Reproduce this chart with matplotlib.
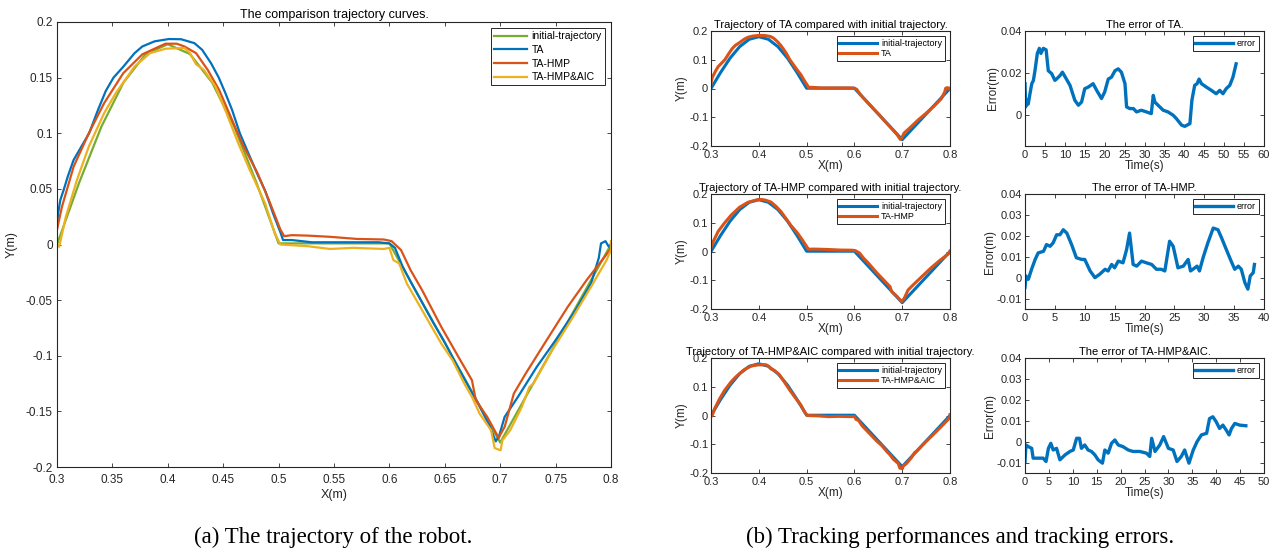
import matplotlib
matplotlib.use('Agg')
import matplotlib.pyplot as plt
import matplotlib.ticker as tck

# ---- trajectory data (x, y in metres) ----
init_x = [0.30, 0.32, 0.34, 0.36, 0.38, 0.40, 0.42, 0.44, 0.46, 0.48, 0.50, 0.60, 0.70, 0.80]
init_y = [0.0, 0.0556, 0.1058, 0.1456, 0.1712, 0.18, 0.1712, 0.1456, 0.1058, 0.0556, 0.001, 0.001, -0.178, 0.0]

ta_x = [0.300, 0.301, 0.303, 0.306, 0.310, 0.315, 0.322, 0.329, 0.337, 0.344, 0.351, 0.360,
        0.370, 0.377, 0.388, 0.401, 0.412, 0.424, 0.431, 0.439, 0.446, 0.452, 0.458, 0.465,
        0.474, 0.481, 0.488, 0.495, 0.502, 0.504, 0.512, 0.530, 0.560, 0.590, 0.600, 0.605,
        0.612, 0.620, 0.630, 0.640, 0.650, 0.660, 0.670, 0.680, 0.690, 0.696, 0.699, 0.704,
        0.716, 0.733, 0.750, 0.768, 0.782, 0.789, 0.791, 0.795, 0.798, 0.800]
ta_y = [0.015, 0.028, 0.040, 0.049, 0.062, 0.076, 0.088, 0.100, 0.121, 0.138, 0.150, 0.160,
        0.172, 0.178, 0.1826, 0.1847, 0.1845, 0.181, 0.175, 0.163, 0.150, 0.136, 0.121, 0.100,
        0.079, 0.063, 0.048, 0.028, 0.010, 0.004, 0.004, 0.002, 0.002, 0.002, 0.001, -0.003,
        -0.020, -0.035, -0.053, -0.071, -0.088, -0.107, -0.125, -0.143, -0.162, -0.177, -0.172, -0.155,
        -0.137, -0.110, -0.086, -0.059, -0.035, -0.012, 0.001, 0.003, -0.002, 0.0]

hmp_x = [0.300, 0.3045, 0.315, 0.3287, 0.3425, 0.3598, 0.3771, 0.3979, 0.408, 0.415, 0.4255, 0.436,
         0.4463, 0.4567, 0.467, 0.481, 0.4912, 0.5016, 0.505, 0.512, 0.526, 0.5465, 0.5707, 0.595,
         0.602, 0.6105, 0.6191, 0.6295, 0.6468, 0.664, 0.6745, 0.678, 0.6883, 0.6987, 0.700, 0.704,
         0.7123, 0.723, 0.740, 0.761, 0.778, 0.792, 0.799, 0.800]
hmp_y = [0.0135, 0.034, 0.070, 0.100, 0.127, 0.154, 0.171, 0.1805, 0.1805, 0.178, 0.172, 0.157,
         0.139, 0.115, 0.091, 0.064, 0.040, 0.0135, 0.0075, 0.0084, 0.008, 0.0069, 0.005, 0.0045,
         0.003, -0.005, -0.023, -0.041, -0.074, -0.104, -0.122, -0.140, -0.155, -0.174, -0.171, -0.164,
         -0.134, -0.116, -0.089, -0.056, -0.032, -0.014, -0.005, 0.0015]

aic_x = [0.300, 0.302, 0.308, 0.318, 0.3287, 0.3425, 0.353, 0.370, 0.384, 0.398, 0.415, 0.420,
         0.4255, 0.4325, 0.443, 0.453, 0.4636, 0.474, 0.4878, 0.4964, 0.5016, 0.526, 0.5465, 0.567,
         0.595, 0.600, 0.6036, 0.6088, 0.6157, 0.6295, 0.6468, 0.657, 0.6676, 0.6745, 0.6814, 0.6918,
         0.695, 0.7004, 0.702, 0.709, 0.7195, 0.7264, 0.730, 0.747, 0.764, 0.782, 0.796, 0.800, 0.800]
aic_y = [0.0, -0.002, 0.025, 0.058, 0.088, 0.118, 0.136, 0.160, 0.172, 0.176, 0.1766, 0.172,
         0.162, 0.157, 0.142, 0.118, 0.091, 0.067, 0.037, 0.0105, 0.0, -0.0015, -0.004, -0.003,
         -0.004, -0.003, -0.014, -0.017, -0.035, -0.059, -0.089, -0.104, -0.125, -0.137, -0.152, -0.167,
         -0.183, -0.185, -0.176, -0.167, -0.146, -0.128, -0.125, -0.095, -0.068, -0.038, -0.014, -0.005, 0.003]

# ---- tracking error data (time s, error m) ----
ta_t = [0, 0.17, 0.4, 0.8, 1.25, 1.7, 2.1, 2.5, 3.1, 3.6, 4.0, 4.6, 5.3, 5.85, 6.7, 7.5, 7.9, 8.8,
        9.4, 10.4, 11.3, 12.5, 13.4, 14.2, 15.0, 15.9, 17.1, 18.0, 19.2, 20.0, 20.9, 21.7, 22.6, 23.4,
        24.2, 25.1, 25.5, 26.3, 27.2, 28.0, 29.2, 30.5, 31.7, 32.2, 32.6, 33.4, 34.7, 35.9, 37.2, 38.0,
        39.3, 40.1, 41.4, 41.9, 42.6, 43.2, 43.7, 44.3, 45.5, 46.8, 48.0, 48.9, 49.7, 50.5, 51.4, 52.2, 53.0]
ta_err = [0.0148, 0.0037, 0.007, 0.005, 0.010, 0.0148, 0.0163, 0.021, 0.0293, 0.0317, 0.0293, 0.0317,
          0.031, 0.021, 0.0196, 0.0164, 0.017, 0.0187, 0.0203, 0.017, 0.014, 0.0069, 0.0045, 0.006,
          0.0124, 0.0132, 0.0148, 0.0116, 0.0077, 0.0108, 0.017, 0.0179, 0.021, 0.0219, 0.0203, 0.0148,
          0.0037, 0.0029, 0.0029, 0.0013, 0.0021, 0.0013, 0.0005, 0.0092, 0.006, 0.0045, 0.0021, 0.0013,
          -0.0003, -0.0019, -0.005, -0.0056, -0.0043, 0.0069, 0.014, 0.0148, 0.017, 0.0148, 0.0132,
          0.0116, 0.010, 0.0116, 0.010, 0.0124, 0.014, 0.0179, 0.0243]

hmp_t = [0, 0.17, 0.56, 1.1, 1.7, 2.2, 3.1, 3.6, 4.2, 4.7, 5.3, 5.85, 6.4, 7.0, 7.8, 8.6, 9.5, 10.0,
         10.9, 11.7, 12.5, 13.4, 13.9, 14.5, 15.0, 15.6, 16.4, 17.0, 17.5, 18.1, 18.7, 19.5, 20.3, 21.2,
         22.0, 22.8, 23.4, 24.2, 24.8, 25.6, 26.5, 27.3, 27.7, 28.1, 28.8, 29.2, 29.8, 30.6, 31.5, 32.3,
         32.9, 33.7, 34.5, 35.1, 35.7, 36.2, 36.8, 37.3, 37.7, 38.2, 38.4]
hmp_err = [-0.0047, 0.0008, -0.0008, 0.004, 0.0087, 0.0118, 0.0126, 0.0158, 0.015, 0.0166, 0.0205,
           0.0205, 0.0229, 0.0213, 0.0158, 0.0095, 0.0087, 0.0087, 0.0032, 0.0, 0.0016, 0.004, 0.0032,
           0.0063, 0.0047, 0.0079, 0.0071, 0.0134, 0.0213, 0.0063, 0.0055, 0.0079, 0.0071, 0.0063, 0.004,
           0.004, 0.0032, 0.0174, 0.015, 0.0047, 0.0055, 0.0087, 0.0032, 0.004, 0.0055, 0.0032, 0.0095,
           0.0166, 0.0237, 0.0229, 0.019, 0.0134, 0.0079, 0.004, 0.0055, 0.004, -0.0024, -0.0055, 0.0008,
           0.0024, 0.0063]

aic_t = [0, 0.2, 0.7, 1.4, 1.7, 2.8, 3.8, 4.4, 4.9, 5.4, 5.9, 6.6, 7.3, 8.4, 9.4, 10.1, 10.8, 11.4,
         11.8, 12.5, 13.2, 13.9, 14.6, 15.3, 16.2, 16.7, 17.4, 18.1, 18.8, 19.5, 20.5, 21.6, 22.6, 24.0,
         25.4, 26.1, 26.5, 27.2, 28.2, 29.0, 30.0, 31.0, 31.8, 32.7, 33.4, 34.3, 35.2, 36.0, 36.9, 38.0,
         38.6, 39.3, 40.0, 40.7, 41.4, 42.1, 42.7, 43.2, 43.9, 44.9, 46.2]
aic_err = [-0.0095, -0.0016, -0.0024, -0.0032, -0.0079, -0.0079, -0.0079, -0.0095, -0.0032, -0.0008,
           -0.004, -0.0032, -0.0087, -0.0063, -0.0047, -0.004, 0.0016, 0.0016, -0.0032, -0.0016, -0.004,
           -0.0047, -0.0063, -0.0087, -0.0103, -0.004, -0.0055, -0.0008, 0.0008, -0.0016, -0.0024, -0.004,
           -0.0047, -0.0047, -0.0055, -0.0071, 0.0016, -0.0047, -0.0016, 0.0024, -0.0032, -0.004, -0.0095,
           -0.0071, -0.004, -0.0103, -0.004, 0.0, 0.0032, 0.004, 0.011, 0.0119, 0.0095, 0.0063, 0.0079,
           0.0055, 0.0032, 0.0063, 0.0087, 0.0079, 0.0076]

BLUE = '#0072BD'
RED = '#D95319'
YELLOW = '#EDB120'
GREEN = '#77AC30'
DARK = '#262626'

W, H = 1278, 553
plt.rcParams['font.family'] = ['Liberation Sans', 'DejaVu Sans']

fig = plt.figure(figsize=(W / 100, H / 100), dpi=100)


def px_axes(left, top, right, bottom):
    return fig.add_axes([left / W, 1 - bottom / H, (right - left) / W, (bottom - top) / H])


def matlab_style(ax, size, xpad, ypad):
    for s in ax.spines.values():
        s.set_color(DARK)
        s.set_linewidth(0.8)
    ax.tick_params(direction='in', top=True, right=True, colors=DARK, labelsize=size,
                   length=3, width=0.6)
    ax.tick_params(axis='x', pad=xpad)
    ax.tick_params(axis='y', pad=ypad)
    ax.xaxis.set_major_formatter(tck.FuncFormatter(lambda v, p: f'{v:g}'))
    ax.yaxis.set_major_formatter(tck.FuncFormatter(lambda v, p: f'{v:g}'))


def add_legend(ax, size, hl, spacing):
    leg = ax.legend(loc='upper right', fontsize=size, fancybox=False, framealpha=1,
                    edgecolor=DARK, handlelength=hl, borderpad=0.3, labelspacing=spacing,
                    handletextpad=0.4, borderaxespad=0.6)
    leg.get_frame().set_linewidth(0.7)


# (a) main comparison plot
ax = px_axes(57, 22, 611, 467)
ax.plot(init_x, init_y, color=GREEN, lw=1.6, label='initial-trajectory')
ax.plot(ta_x, ta_y, color=BLUE, lw=1.6, label='TA')
ax.plot(hmp_x, hmp_y, color=RED, lw=1.6, label='TA-HMP')
ax.plot(aic_x, aic_y, color=YELLOW, lw=1.6, label='TA-HMP&AIC')
ax.set_xlim(0.3, 0.8)
ax.set_ylim(-0.2, 0.2)
ax.set_xticks([0.3 + 0.05 * i for i in range(11)])
ax.set_yticks([-0.2 + 0.05 * i for i in range(9)])
matlab_style(ax, 8.5, 5, 3)
ax.set_title('The comparison trajectory curves.', fontsize=9, color='black', pad=3)
ax.set_xlabel('X(m)', fontsize=9, color=DARK, labelpad=2)
ax.set_ylabel('Y(m)', fontsize=9, color=DARK, labelpad=6)
add_legend(ax, 7.5, 3.2, 0.35)

# (b) tracking panels
rows = [(31, 146), (194, 309), (358, 473)]
traj_sets = [(ta_x, ta_y, 'TA'), (hmp_x, hmp_y, 'TA-HMP'), (aic_x, aic_y, 'TA-HMP&AIC')]
err_sets = [(ta_t, ta_err, 'TA', 60), (hmp_t, hmp_err, 'TA-HMP', 40), (aic_t, aic_err, 'TA-HMP&AIC', 50)]

for i, (top, bottom) in enumerate(rows):
    tx, ty, name = traj_sets[i]
    a1 = px_axes(711, top, 950, bottom)
    a1.plot(init_x, init_y, color=BLUE, lw=2.2, label='initial-trajectory')
    a1.plot(tx, ty, color=RED, lw=2.2, label=name)
    a1.set_xlim(0.3, 0.8)
    a1.set_ylim(-0.2, 0.2)
    a1.set_xticks([0.3, 0.4, 0.5, 0.6, 0.7, 0.8])
    a1.set_yticks([-0.2, -0.1, 0, 0.1, 0.2])
    matlab_style(a1, 8, 3, 2)
    a1.set_title(f'Trajectory of {name} compared with initial trajectory.', fontsize=8,
                 color='black', pad=2)
    a1.set_xlabel('X(m)', fontsize=8.5, color=DARK, labelpad=0)
    a1.set_ylabel('Y(m)', fontsize=8.5, color=DARK, labelpad=1)
    add_legend(a1, 6.5, 4.2, 0.15)

    et, ev, ename, tmax = err_sets[i]
    a2 = px_axes(1025, top, 1264, bottom)
    a2.plot(et, ev, color=BLUE, lw=2.4, label='error')
    a2.set_xlim(0, tmax)
    a2.set_ylim(-0.015, 0.04)
    a2.set_xticks(list(range(0, tmax + 1, 5)))
    if i == 0:
        a2.set_yticks([0, 0.02, 0.04])
    else:
        a2.set_yticks([-0.01, 0, 0.01, 0.02, 0.03, 0.04])
    matlab_style(a2, 8, 3, 2)
    a2.set_title(f'The error of {ename}.', fontsize=8, color='black', pad=2)
    a2.set_xlabel('Time(s)', fontsize=8.5, color=DARK, labelpad=0)
    a2.set_ylabel('Error(m)', fontsize=8.5, color=DARK, labelpad=1)
    add_legend(a2, 6.5, 4.2, 0.15)

# captions
serif = ['Liberation Serif', 'DejaVu Serif']
fig.text(333 / W, 1 - 537 / H, '(a) The trajectory of the robot.', ha='center', va='center',
         fontsize=16.5, family=serif)
fig.text(960 / W, 1 - 537 / H, '(b) Tracking performances and tracking errors.', ha='center',
         va='center', fontsize=16.5, family=serif)

fig.savefig('out.png', dpi=100)
